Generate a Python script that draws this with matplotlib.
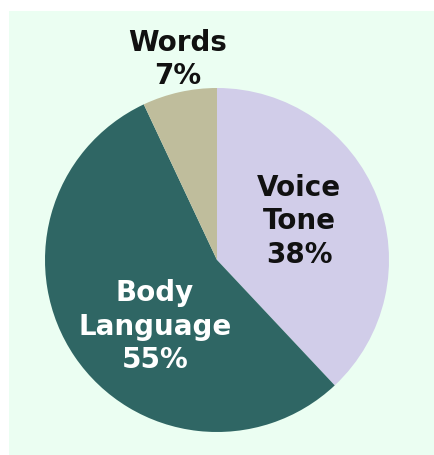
import matplotlib
matplotlib.use("Agg")
import matplotlib.pyplot as plt
from matplotlib.patches import Rectangle

categories = ["Voice\nTone", "Body\nLanguage", "Words"]
values = [38, 55, 7]
colors = ["#d1cde9", "#2f6664", "#bfbd9c"]
text_colors = ["#111111", "#ffffff", "#111111"]
label_pos = [(0.477, 0.232), (-0.36, -0.382), (-0.227, 1.172)]

W, H = 434, 456
fig = plt.figure(figsize=(W / 100, H / 100), dpi=100, facecolor="white")
bg = fig.add_axes([0, 0, 1, 1], zorder=-10)
bg.axis("off")
bg.add_patch(Rectangle((9 / W, 0), 1 - 9 / W, (H - 12) / H,
                       transform=bg.transAxes, facecolor="#ebfef2",
                       edgecolor="none"))

cx, cy, r = 217, 261, 172
ax = fig.add_axes([(cx - r) / W, (H - cy - r) / H, 2 * r / W, 2 * r / H], zorder=1)
ax.set_facecolor("none")
ax.pie(values, colors=colors, startangle=90, counterclock=False, radius=1,
       wedgeprops=dict(linewidth=0))
ax.set_xlim(-1, 1)
ax.set_ylim(-1, 1)
ax.set_aspect("equal")
ax.axis("off")

for cat, val, tc, (x, y) in zip(categories, values, text_colors, label_pos):
    ax.text(x, y, f"{cat}\n{val}%", ha="center", va="center", color=tc,
            fontsize=20, fontweight="bold", family="DejaVu Sans",
            linespacing=1.25, clip_on=False)

fig.savefig("out.png", dpi=100, facecolor="white")
